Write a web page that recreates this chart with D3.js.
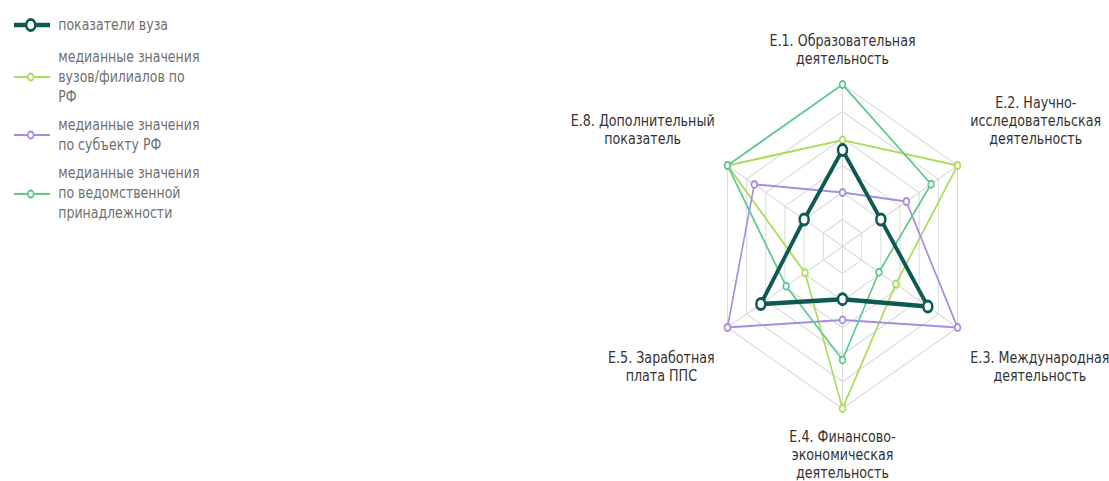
<!DOCTYPE html>
<html>
<head>
<meta charset="utf-8">
<script src="https://cdn.jsdelivr.net/npm/d3@7"></script>
<style>
  body { margin: 0; background: #fff; }
  svg { display: block; }
  text { font-family: "DejaVu Sans", Verdana, sans-serif; }
</style>
</head>
<body>
<svg id="chart" width="1109" height="481"></svg>
<script>
// Axis categories (label lines)
var categories = [
  ["Е.1. Образовательная", "деятельность"],
  ["Е.2. Научно-", "исследовательская", "деятельность"],
  ["Е.3. Международная", "деятельность"],
  ["Е.4. Финансово-", "экономическая", "деятельность"],
  ["Е.5. Заработная", "плата ППС"],
  ["Е.8. Дополнительный", "показатель"]
];

// Series values (grid rings = 1 unit)
var vuzValues     = [3.57, 2.0, 4.45, 1.95, 4.26, 2.0];
var rfValues      = [3.94, 6.0, 2.78, 6.0, 1.95, 6.0];
var subjectValues = [2.0, 3.33, 6.0, 2.72, 6.0, 4.6];
var deptValues    = [6.0, 4.62, 1.9, 4.2, 2.94, 6.0];

var seriesNames = [
  ["показатели вуза"],
  ["медианные значения", "вузов/филиалов по", "РФ"],
  ["медианные значения", "по субъекту РФ"],
  ["медианные значения", "по ведомственной", "принадлежности"]
];

var gridTicks = [1, 2, 3, 4, 5, 6];

// The picture is squeezed horizontally, so draw wide and scale x
var squeeze = 0.82;
var cx = 842.5 / squeeze, cy = 246.5, R = 162;

var series = [
  { name: seriesNames[1], values: rfValues,      color: "#a9dc5b", width: 2, r: 3.5, sw: 2 },
  { name: seriesNames[2], values: subjectValues, color: "#a88ddf", width: 2, r: 3.5, sw: 2 },
  { name: seriesNames[3], values: deptValues,    color: "#5ec98c", width: 2, r: 3.5, sw: 2 },
  { name: seriesNames[0], values: vuzValues,     color: "#0e5a52", width: 4.5, r: 5.5, sw: 3 }
];
var legendOrder = [3, 0, 1, 2];

var svg = d3.select("#chart");
var root = svg.append("g").attr("transform", "scale(" + squeeze + ",1)");

var rScale = d3.scaleLinear().domain([0, 6]).range([0, R]);
var angle = d3.scalePoint().domain(d3.range(categories.length))
  .range([0, 2 * Math.PI * (categories.length - 1) / categories.length]);

function pt(i, v) {
  var a = angle(i);
  return [cx + rScale(v) * Math.sin(a), cy - rScale(v) * Math.cos(a)];
}

var line = d3.line()
  .x(function(d) { return d[0]; })
  .y(function(d) { return d[1]; })
  .curve(d3.curveLinearClosed);

// Grid rings
var grid = root.append("g").attr("class", "grid");
grid.selectAll("path.ring")
  .data(gridTicks).enter()
  .append("path")
    .attr("class", "ring")
    .attr("fill", "none")
    .attr("stroke", "#dadada")
    .attr("stroke-width", 1.2)
    .attr("d", function(t) {
      return line(categories.map(function(c, i) { return pt(i, t); }));
    });
// Spokes
grid.selectAll("line.spoke")
  .data(categories).enter()
  .append("line")
    .attr("class", "spoke")
    .attr("stroke", "#dadada")
    .attr("stroke-width", 1.2)
    .attr("x1", cx).attr("y1", cy)
    .attr("x2", function(d, i) { return pt(i, 6)[0]; })
    .attr("y2", function(d, i) { return pt(i, 6)[1]; });

// Series
var sg = root.selectAll("g.series")
  .data(series).enter()
  .append("g").attr("class", "series");
sg.append("path")
  .attr("fill", "none")
  .attr("stroke", function(d) { return d.color; })
  .attr("stroke-width", function(d) { return d.width; })
  .attr("stroke-linejoin", "round")
  .attr("d", function(d) { return line(d.values.map(function(v, i) { return pt(i, v); })); });
sg.selectAll("circle")
  .data(function(d) { return d.values.map(function(v, i) { return { s: d, p: pt(i, v) }; }); })
  .enter()
  .append("circle")
    .attr("cx", function(d) { return d.p[0]; })
    .attr("cy", function(d) { return d.p[1]; })
    .attr("r", function(d) { return d.s.r; })
    .attr("fill", "#fff")
    .attr("stroke", function(d) { return d.s.color; })
    .attr("stroke-width", function(d) { return d.s.sw; });

// Axis labels
var lh = 18, pad = 18;
var labels = root.append("g").attr("class", "labels");
categories.forEach(function(lines, i) {
  var a = angle(i);
  var ax = cx + (R + pad) * Math.sin(a), ay = cy - (R + pad) * Math.cos(a);
  var g = labels.append("g");
  var t = g.append("text")
    .attr("text-anchor", "middle")
    .attr("font-size", 15.5)
    .attr("fill", "#333");
  lines.forEach(function(s, k) {
    t.append("tspan").attr("x", 0).attr("y", k * lh).attr("dy", "0.35em").text(s);
  });
  var w = d3.max(t.selectAll("tspan").nodes(), function(n) { return n.getComputedTextLength(); });
  var n = lines.length;
  var sx = Math.sin(a), cs = Math.cos(a);
  var x0 = ax, y0;
  if (sx > 0.1) x0 = ax + w / 2;
  else if (sx < -0.1) x0 = ax - w / 2;
  if (cs > 0.9) y0 = ay - 7.5 - (n - 1) * lh;
  else if (cs < -0.9) y0 = ay + 10.5;
  else if (cs > 0) y0 = ay - 17.5 - (n - 1) * lh;
  else y0 = ay + 21.5;
  g.attr("transform", "translate(" + x0 + "," + y0 + ")");
});

// Legend
var legendY = [25, 77, 135, 194];
var legendLineY = [25, 57, 125, 173];
var legend = root.append("g").attr("class", "legend");
legendOrder.forEach(function(si, k) {
  var s = series[si];
  var g = legend.append("g");
  g.append("line")
    .attr("x1", 17).attr("x2", 61)
    .attr("y1", legendY[k]).attr("y2", legendY[k])
    .attr("stroke", s.color).attr("stroke-width", s.width);
  g.append("circle")
    .attr("cx", 37.5).attr("cy", legendY[k]).attr("r", s.r)
    .attr("fill", "#fff").attr("stroke", s.color).attr("stroke-width", s.sw);
  var t = g.append("text").attr("font-size", 15.3).attr("fill", "#707070");
  s.name.forEach(function(line, j) {
    t.append("tspan").attr("x", 71).attr("y", legendLineY[k] + j * 20).attr("dy", "0.35em").text(line);
  });
});
</script>
</body>
</html>
